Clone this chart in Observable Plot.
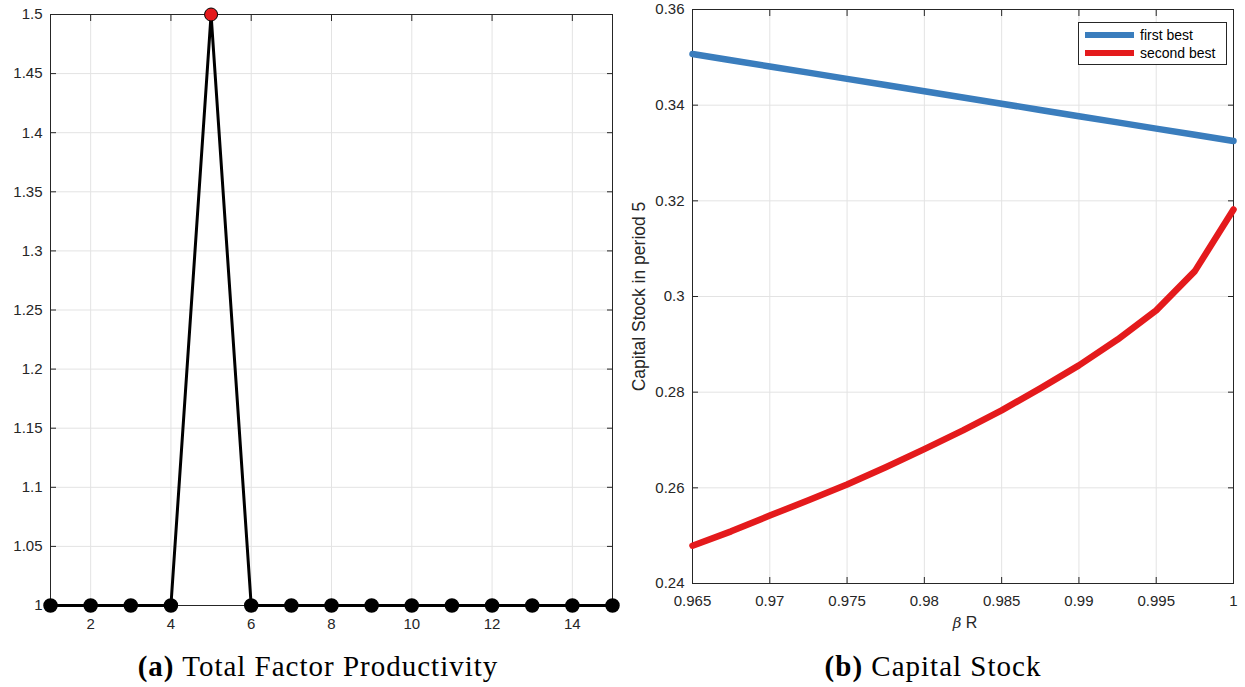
<!DOCTYPE html>
<html>
<head>
<meta charset="utf-8">
<script src="https://cdn.jsdelivr.net/npm/d3@7"></script>
<script src="https://cdn.jsdelivr.net/npm/@observablehq/plot@0.6"></script>
<style>
  html, body { margin: 0; padding: 0; background: #fff; }
  body { width: 1245px; height: 687px; position: relative; overflow: hidden; font-family: "Liberation Sans", Arial, sans-serif; }
  .abs { position: absolute; }
  .cap { font-family: "Liberation Serif", "Times New Roman", serif; font-size: 29px; letter-spacing: 1px; color: #000; text-align: center; white-space: nowrap; }
  .legend { border: 1px solid #262626; background: #fff; box-sizing: border-box; font-size: 14px; color: #000; }
  .legend .row { position: absolute; left: 0; height: 18px; display: flex; align-items: center; }
  .legend .sw { width: 49px; height: 6px; margin-left: 6px; margin-right: 6px; }
</style>
</head>
<body>
<div id="panelA" class="abs" style="left:0;top:0"></div>
<div id="panelB" class="abs" style="left:622px;top:0"></div>
<div id="xlabB" class="abs" style="left:865px;top:614px;width:200px;text-align:center;font-size:16px;color:#262626;"><i style="font-family:'DejaVu Serif',serif;font-size:15px;">β</i> R</div>
<div id="legend" class="abs legend" style="left:1078px;top:22px;width:149px;height:43px;"></div>
<div class="abs cap" style="left:0;top:650px;width:636px;"><b>(a)</b> Total Factor Productivity</div>
<div class="abs cap" style="left:623px;top:650px;width:620px;"><b>(b)</b> Capital Stock</div>
<script>
// ---- Panel (a): Total Factor Productivity ----
const periods = [1, 2, 3, 4, 5, 6, 7, 8, 9, 10, 11, 12, 13, 14, 15];
const tfp = [1, 1, 1, 1, 1.5, 1, 1, 1, 1, 1, 1, 1, 1, 1, 1];
const shockPeriod = 5;
const tfpXTicks = [2, 4, 6, 8, 10, 12, 14];
const tfpYTicks = [1, 1.05, 1.1, 1.15, 1.2, 1.25, 1.3, 1.35, 1.4, 1.45, 1.5];

// ---- Panel (b): Capital Stock in period 5 ----
const betaR = [0.965, 0.9675, 0.97, 0.9725, 0.975, 0.9775, 0.98, 0.9825, 0.985, 0.9875, 0.99, 0.9925, 0.995, 0.9975, 1.0];
const firstBest = [0.3507, 0.3494, 0.3481, 0.3468, 0.3455, 0.3442, 0.3429, 0.3416, 0.3403, 0.3390, 0.3377, 0.3364, 0.3351, 0.3338, 0.3325];
const secondBest = [0.2479, 0.2509, 0.2542, 0.2574, 0.2607, 0.2643, 0.2681, 0.2720, 0.2762, 0.2808, 0.2856, 0.2910, 0.2971, 0.3053, 0.3182];
const capXTicks = [0.965, 0.97, 0.975, 0.98, 0.985, 0.99, 0.995, 1];
const capYTicks = [0.24, 0.26, 0.28, 0.3, 0.32, 0.34, 0.36];
const seriesNames = ["first best", "second best"];
const seriesColors = ["#3a7dbd", "#e41a1c"];
const yLabelB = "Capital Stock in period 5";

const fmt = d3.format("~g");
const gridColor = "#e3e3e3";
const axisColor = "#262626";
const tickFont = "15px";
const baseStyle = { fontFamily: "'Liberation Sans', Arial, sans-serif", fontSize: "15px", color: axisColor, background: "white", overflow: "visible" };

function boxAxes(xTicks, yTicks, padX, padY) {
  return [
    Plot.axisX(xTicks, { anchor: "bottom", tickSize: -6, tickPadding: padX, tickFormat: fmt, label: null }),
    Plot.axisX(xTicks, { anchor: "top", tickSize: -6, tickFormat: () => "", label: null }),
    Plot.axisY(yTicks, { anchor: "left", tickSize: -6, tickPadding: padY, tickFormat: fmt, label: null }),
    Plot.axisY(yTicks, { anchor: "right", tickSize: -6, tickFormat: () => "", label: null })
  ];
}

function enlargeTicks(svg, skip) {
  d3.select(svg).selectAll("text")
    .filter(function () { return this.textContent !== skip; })
    .style("font-size", tickFont)
    .style("font-family", "'Liberation Sans', Arial, sans-serif");
}

const tfpData = periods.map((p, i) => ({ period: p, value: tfp[i] }));

const plotA = Plot.plot({
  width: 622, height: 640,
  marginLeft: 50, marginRight: 10, marginTop: 14, marginBottom: 35,
  style: baseStyle,
  x: { domain: [1, 15] },
  y: { domain: [1, 1.5] },
  marks: [
    Plot.gridX(tfpXTicks, { stroke: gridColor, strokeOpacity: 1 }),
    Plot.gridY(tfpYTicks, { stroke: gridColor, strokeOpacity: 1 }),
    Plot.frame({ stroke: axisColor, strokeWidth: 1 }),
    ...boxAxes(tfpXTicks, tfpYTicks, 19, 14),
    Plot.line(tfpData, { x: "period", y: "value", stroke: "#000", strokeWidth: 3 }),
    Plot.dot(tfpData.filter(d => d.period !== shockPeriod), { x: "period", y: "value", r: 6.5, fill: "#000", stroke: "#000" }),
    Plot.dot(tfpData.filter(d => d.period === shockPeriod), { x: "period", y: "value", r: 6.5, fill: "#e41a1c", stroke: "#000", strokeWidth: 1 })
  ]
});
enlargeTicks(plotA, null);
document.getElementById("panelA").appendChild(plotA);

const capData = [];
seriesNames.forEach((name, s) => {
  const vals = s === 0 ? firstBest : secondBest;
  betaR.forEach((b, i) => capData.push({ betaR: b, k: vals[i], series: name }));
});

const plotB = Plot.plot({
  width: 623, height: 640,
  marginLeft: 70, marginRight: 12, marginTop: 9, marginBottom: 57,
  style: baseStyle,
  x: { domain: [0.965, 1] },
  y: { domain: [0.24, 0.36] },
  color: { domain: seriesNames, range: seriesColors },
  marks: [
    Plot.gridX(capXTicks, { stroke: gridColor, strokeOpacity: 1 }),
    Plot.gridY(capYTicks, { stroke: gridColor, strokeOpacity: 1 }),
    Plot.frame({ stroke: axisColor, strokeWidth: 1 }),
    ...boxAxes(capXTicks, capYTicks, 18, 14),
    Plot.line(capData, { x: "betaR", y: "k", z: "series", stroke: "series", strokeWidth: 6.5 }),
    Plot.text([yLabelB], { frameAnchor: "left", text: d => d, rotate: -90, dx: -53, textAnchor: "middle", fontSize: 17.5, fill: axisColor })
  ]
});
enlargeTicks(plotB, yLabelB);
document.getElementById("panelB").appendChild(plotB);

// legend
const leg = document.getElementById("legend");
seriesNames.forEach((name, i) => {
  const row = document.createElement("div");
  row.className = "row";
  row.style.top = (i === 0 ? 3 : 21) + "px";
  const sw = document.createElement("span");
  sw.className = "sw";
  sw.style.background = seriesColors[i];
  const tx = document.createElement("span");
  tx.textContent = name;
  row.appendChild(sw); row.appendChild(tx);
  leg.appendChild(row);
});
</script>
</body>
</html>
